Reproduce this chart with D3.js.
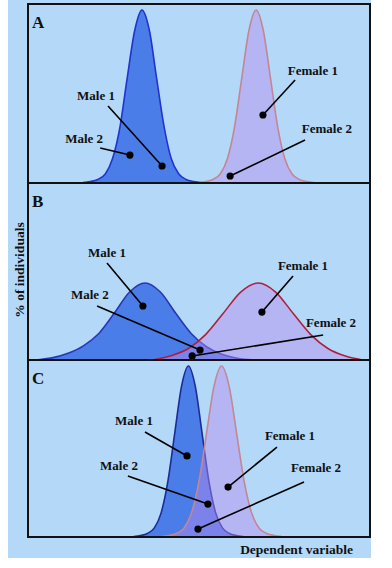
<!DOCTYPE html>
<html><head><meta charset="utf-8">
<script src="https://cdn.jsdelivr.net/npm/d3@7/dist/d3.min.js"></script>
<style>html,body{margin:0;padding:0;background:#fff;}svg{display:block;}</style>
</head><body>
<script>
// ---- data (x: dependent variable 0-100, y: % of individuals 0-100 of panel height) ----
const panels = ["A", "B", "C"];
const seriesNames = ["Male", "Female"];

const maleA_x = [16.1,18.2,20.4,22.6,24.7,26.9,29.0,31.2,33.3,35.5,37.6,39.8,41.9,44.1,46.2,48.4,50.5,52.0];
const maleA_y = [0.3,0.8,2.0,5.0,13.5,31.4,58.6,85.2,96.6,85.2,58.6,31.4,13.5,5.0,2.0,0.8,0.3,0];
const femaleA_x = [49.9,52.0,54.1,56.2,58.3,60.4,62.5,64.6,66.7,68.8,70.9,73.0,75.1,77.2,79.3,81.4,83.5,85.0];
const femaleA_y = [0.3,0.8,2.0,5.0,13.5,31.4,58.6,85.2,96.6,85.2,58.6,31.4,13.5,5.0,2.0,0.8,0.3,0];

const maleB_x = [2,7,11.7,16.2,20.7,25.2,29.7,34.2,38.7,43.2,47.7,52.2,56.7,61.2,66];
const maleB_y = [0,1.2,3.8,8.0,15.0,26.4,38.4,43.5,38.4,26.4,15.0,7.5,3.2,1.0,0];
const femaleB_x = [36.5,41.8,46.9,52.0,57.1,62.2,67.3,72.4,77.5,82.6,87.7,92.8,97.8];
const femaleB_y = [0,2.4,6.5,14.5,26.4,38.4,43.5,38.4,26.4,14.5,6.5,2.2,0];

const maleC_x = [30.9,32.9,34.9,36.9,38.9,40.9,42.9,44.9,46.9,48.9,50.9,52.9,54.9,56.9,58.9,60.9,62.9];
const maleC_y = [0.3,0.8,2.0,5.0,13.5,31.4,58.6,85.2,96.6,85.2,58.6,31.4,13.5,5.0,2.0,0.8,0.3];
const femaleC_x = [39.0,41.2,43.4,45.6,47.8,50.0,52.2,54.4,56.6,58.8,61.0,63.2,65.4,67.6,69.8,72.0,74.2];
const femaleC_y = [0.3,0.8,2.0,5.0,13.5,31.4,58.6,85.2,96.6,85.2,58.6,31.4,13.5,5.0,2.0,0.8,0.3];

// annotation labels: [label, labelX, labelY, lineStartX, lineStartY, dotX, dotY] in data units
const annotA = [
  ["Male 1", 19.9, 46.4, 23.4, 43.0, 39.2, 9.5],
  ["Male 2", 16.4, 22.3, 21.1, 19.6, 29.8, 15.6],
  ["Female 1", 83.3, 60.3, 78.1, 57.5, 68.7, 38.0],
  ["Female 2", 87.4, 27.9, 81.0, 24.0, 59.1, 3.9]
];
const annotB = [
  ["Male 1", 23.1, 58.2, 23.1, 54.8, 33.6, 30.5],
  ["Male 2", 18.1, 34.5, 20.2, 30.5, 50.3, 5.6],
  ["Female 1", 80.4, 50.8, 77.5, 47.5, 68.4, 27.1],
  ["Female 2", 88.6, 18.6, 86.3, 14.1, 48.0, 2.3]
];
const annotC = [
  ["Male 1", 31.0, 63.3, 34.2, 59.3, 46.5, 45.8],
  ["Male 2", 26.6, 37.9, 29.2, 34.5, 52.6, 18.6],
  ["Female 1", 76.6, 54.8, 72.8, 50.8, 58.5, 28.2],
  ["Female 2", 84.2, 36.7, 80.7, 31.1, 49.7, 4.5]
];

const yAxisLabel = "% of individuals";
const xAxisLabel = "Dependent variable";

// ---- layout ----
const W = 392, H = 568;
const bg = "#b3d8f8";
const left = 28, right = 370;
const panelTops = [4, 183, 360];
const panelBottoms = [183, 360, 537];
const maleFill = "#4a7de8";
const femaleFill = "rgba(184,140,238,0.45)";
const maleStroke = ["#2233d0", "#2a36b8", "#1e2a96"];
const femaleStroke = ["#c48694", "#b0203e", "#c48694"];

const svg = d3.select("body").append("svg").attr("width", W).attr("height", H);
svg.append("rect").attr("x", 8).attr("y", 0).attr("width", 363).attr("height", 558).attr("fill", bg);

const x = d3.scaleLinear().domain([0, 100]).range([left, right]);

const curveData = [
  [[maleA_x, maleA_y], [femaleA_x, femaleA_y]],
  [[maleB_x, maleB_y], [femaleB_x, femaleB_y]],
  [[maleC_x, maleC_y], [femaleC_x, femaleC_y]]
];
const annots = [annotA, annotB, annotC];
const serif = "'Liberation Serif','Times New Roman',serif";

panels.forEach((p, i) => {
  const y = d3.scaleLinear().domain([0, 100]).range([panelBottoms[i], panelTops[i]]);
  const g = svg.append("g");
  g.append("rect").attr("x", left).attr("y", panelTops[i]).attr("width", right - left)
    .attr("height", panelBottoms[i] - panelTops[i]).attr("fill", bg);

  const area = d3.area().x(d => x(d[0])).y0(y(0)).y1(d => y(d[1])).curve(d3.curveMonotoneX);
  const line = d3.line().x(d => x(d[0])).y(d => y(d[1])).curve(d3.curveMonotoneX);

  const [m, f] = curveData[i];
  const mPts = m[0].map((v, k) => [v, m[1][k]]);
  const fPts = f[0].map((v, k) => [v, f[1][k]]);

  g.append("path").datum(mPts).attr("d", area).attr("fill", maleFill);
  g.append("path").datum(mPts).attr("d", line).attr("fill", "none")
    .attr("stroke", maleStroke[i]).attr("stroke-width", 1.6);
  g.append("path").datum(fPts).attr("d", area).attr("fill", femaleFill);
  g.append("path").datum(fPts).attr("d", line).attr("fill", "none")
    .attr("stroke", femaleStroke[i]).attr("stroke-width", 1.6);

  // annotations
  annots[i].forEach(a => {
    g.append("line").attr("x1", x(a[3])).attr("y1", y(a[4])).attr("x2", x(a[5])).attr("y2", y(a[6]))
      .attr("stroke", "#000").attr("stroke-width", 1.6);
    g.append("circle").attr("cx", x(a[5])).attr("cy", y(a[6])).attr("r", 3.6).attr("fill", "#000");
    g.append("text").attr("x", x(a[1])).attr("y", y(a[2])).attr("text-anchor", "middle")
      .attr("font-family", serif).attr("font-weight", "bold").attr("font-size", 13)
      .attr("fill", "#111").text(a[0]);
  });

  g.append("text").attr("x", 32).attr("y", panelTops[i] + 24)
    .attr("font-family", serif).attr("font-weight", "bold").attr("font-size", 17)
    .attr("fill", "#111").text(p);

  g.append("rect").attr("x", left).attr("y", panelTops[i]).attr("width", right - left)
    .attr("height", panelBottoms[i] - panelTops[i]).attr("fill", "none")
    .attr("stroke", "#111").attr("stroke-width", 2);
});

svg.append("text").attr("transform", "translate(24,270) rotate(-90)").attr("text-anchor", "middle")
  .attr("font-family", serif).attr("font-weight", "bold").attr("font-size", 13.5)
  .attr("fill", "#111").text(yAxisLabel);

svg.append("text").attr("x", 353).attr("y", 554).attr("text-anchor", "end")
  .attr("font-family", serif).attr("font-weight", "bold").attr("font-size", 13.5)
  .attr("fill", "#111").text(xAxisLabel);
</script>
</body></html>
